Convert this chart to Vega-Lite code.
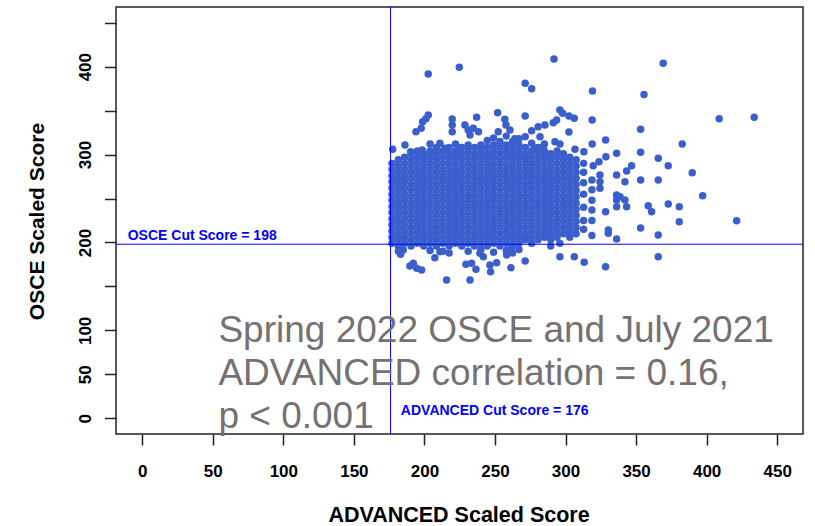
{
"$schema": "https://vega.github.io/schema/vega-lite/v6.json",
"width": 687, "height": 427,
"autosize": "none",
"padding": {"left": 116, "top": 7, "right": 12, "bottom": 92},
"background": "white",
"config": {"view": {"stroke": "#222", "strokeWidth": 1.5}, "font": "Liberation Sans"},
"data": {"values": [
{"adv":177,"osce":199},{"adv":177,"osce":206},{"adv":177,"osce":213},{"adv":177,"osce":220},{"adv":177,"osce":227},{"adv":177,"osce":234},{"adv":177,"osce":241},{"adv":177,"osce":248},{"adv":177,"osce":255},{"adv":177,"osce":262},{"adv":177,"osce":269},{"adv":177,"osce":276},{"adv":177,"osce":283},{"adv":177,"osce":290},
{"adv":181.5,"osce":196},{"adv":181.5,"osce":203},{"adv":181.5,"osce":210},{"adv":181.5,"osce":217},{"adv":181.5,"osce":224},{"adv":181.5,"osce":231},{"adv":181.5,"osce":238},{"adv":181.5,"osce":245},{"adv":181.5,"osce":252},{"adv":181.5,"osce":259},{"adv":181.5,"osce":266},{"adv":181.5,"osce":273},{"adv":181.5,"osce":280},{"adv":181.5,"osce":287},{"adv":181.5,"osce":294},
{"adv":186,"osce":199},{"adv":186,"osce":206},{"adv":186,"osce":213},{"adv":186,"osce":220},{"adv":186,"osce":227},{"adv":186,"osce":234},{"adv":186,"osce":241},{"adv":186,"osce":248},{"adv":186,"osce":255},{"adv":186,"osce":262},{"adv":186,"osce":269},{"adv":186,"osce":276},{"adv":186,"osce":283},{"adv":186,"osce":290},{"adv":186,"osce":297},
{"adv":190.5,"osce":196},{"adv":190.5,"osce":203},{"adv":190.5,"osce":210},{"adv":190.5,"osce":217},{"adv":190.5,"osce":224},{"adv":190.5,"osce":231},{"adv":190.5,"osce":238},{"adv":190.5,"osce":245},{"adv":190.5,"osce":252},{"adv":190.5,"osce":259},{"adv":190.5,"osce":266},{"adv":190.5,"osce":273},{"adv":190.5,"osce":280},{"adv":190.5,"osce":287},{"adv":190.5,"osce":294},{"adv":190.5,"osce":301},
{"adv":195,"osce":199},{"adv":195,"osce":206},{"adv":195,"osce":213},{"adv":195,"osce":220},{"adv":195,"osce":227},{"adv":195,"osce":234},{"adv":195,"osce":241},{"adv":195,"osce":248},{"adv":195,"osce":255},{"adv":195,"osce":262},{"adv":195,"osce":269},{"adv":195,"osce":276},{"adv":195,"osce":283},{"adv":195,"osce":290},{"adv":195,"osce":297},{"adv":195,"osce":304},
{"adv":199.5,"osce":196},{"adv":199.5,"osce":203},{"adv":199.5,"osce":210},{"adv":199.5,"osce":217},{"adv":199.5,"osce":224},{"adv":199.5,"osce":231},{"adv":199.5,"osce":238},{"adv":199.5,"osce":245},{"adv":199.5,"osce":252},{"adv":199.5,"osce":259},{"adv":199.5,"osce":266},{"adv":199.5,"osce":273},{"adv":199.5,"osce":280},{"adv":199.5,"osce":287},{"adv":199.5,"osce":294},{"adv":199.5,"osce":301},
{"adv":204,"osce":199},{"adv":204,"osce":206},{"adv":204,"osce":213},{"adv":204,"osce":220},{"adv":204,"osce":227},{"adv":204,"osce":234},{"adv":204,"osce":241},{"adv":204,"osce":248},{"adv":204,"osce":255},{"adv":204,"osce":262},{"adv":204,"osce":269},{"adv":204,"osce":276},{"adv":204,"osce":283},{"adv":204,"osce":290},{"adv":204,"osce":297},{"adv":204,"osce":304},
{"adv":208.5,"osce":196},{"adv":208.5,"osce":203},{"adv":208.5,"osce":210},{"adv":208.5,"osce":217},{"adv":208.5,"osce":224},{"adv":208.5,"osce":231},{"adv":208.5,"osce":238},{"adv":208.5,"osce":245},{"adv":208.5,"osce":252},{"adv":208.5,"osce":259},{"adv":208.5,"osce":266},{"adv":208.5,"osce":273},{"adv":208.5,"osce":280},{"adv":208.5,"osce":287},{"adv":208.5,"osce":294},{"adv":208.5,"osce":301},{"adv":208.5,"osce":308},
{"adv":213,"osce":199},{"adv":213,"osce":206},{"adv":213,"osce":213},{"adv":213,"osce":220},{"adv":213,"osce":227},{"adv":213,"osce":234},{"adv":213,"osce":241},{"adv":213,"osce":248},{"adv":213,"osce":255},{"adv":213,"osce":262},{"adv":213,"osce":269},{"adv":213,"osce":276},{"adv":213,"osce":283},{"adv":213,"osce":290},{"adv":213,"osce":297},{"adv":213,"osce":304},
{"adv":217.5,"osce":196},{"adv":217.5,"osce":203},{"adv":217.5,"osce":210},{"adv":217.5,"osce":217},{"adv":217.5,"osce":224},{"adv":217.5,"osce":231},{"adv":217.5,"osce":238},{"adv":217.5,"osce":245},{"adv":217.5,"osce":252},{"adv":217.5,"osce":259},{"adv":217.5,"osce":266},{"adv":217.5,"osce":273},{"adv":217.5,"osce":280},{"adv":217.5,"osce":287},{"adv":217.5,"osce":294},{"adv":217.5,"osce":301},{"adv":217.5,"osce":308},
{"adv":222,"osce":199},{"adv":222,"osce":206},{"adv":222,"osce":213},{"adv":222,"osce":220},{"adv":222,"osce":227},{"adv":222,"osce":234},{"adv":222,"osce":241},{"adv":222,"osce":248},{"adv":222,"osce":255},{"adv":222,"osce":262},{"adv":222,"osce":269},{"adv":222,"osce":276},{"adv":222,"osce":283},{"adv":222,"osce":290},{"adv":222,"osce":297},{"adv":222,"osce":304},
{"adv":226.5,"osce":196},{"adv":226.5,"osce":203},{"adv":226.5,"osce":210},{"adv":226.5,"osce":217},{"adv":226.5,"osce":224},{"adv":226.5,"osce":231},{"adv":226.5,"osce":238},{"adv":226.5,"osce":245},{"adv":226.5,"osce":252},{"adv":226.5,"osce":259},{"adv":226.5,"osce":266},{"adv":226.5,"osce":273},{"adv":226.5,"osce":280},{"adv":226.5,"osce":287},{"adv":226.5,"osce":294},{"adv":226.5,"osce":301},{"adv":226.5,"osce":308},
{"adv":231,"osce":199},{"adv":231,"osce":206},{"adv":231,"osce":213},{"adv":231,"osce":220},{"adv":231,"osce":227},{"adv":231,"osce":234},{"adv":231,"osce":241},{"adv":231,"osce":248},{"adv":231,"osce":255},{"adv":231,"osce":262},{"adv":231,"osce":269},{"adv":231,"osce":276},{"adv":231,"osce":283},{"adv":231,"osce":290},{"adv":231,"osce":297},{"adv":231,"osce":304},{"adv":231,"osce":311},
{"adv":235.5,"osce":196},{"adv":235.5,"osce":203},{"adv":235.5,"osce":210},{"adv":235.5,"osce":217},{"adv":235.5,"osce":224},{"adv":235.5,"osce":231},{"adv":235.5,"osce":238},{"adv":235.5,"osce":245},{"adv":235.5,"osce":252},{"adv":235.5,"osce":259},{"adv":235.5,"osce":266},{"adv":235.5,"osce":273},{"adv":235.5,"osce":280},{"adv":235.5,"osce":287},{"adv":235.5,"osce":294},{"adv":235.5,"osce":301},{"adv":235.5,"osce":308},
{"adv":240,"osce":199},{"adv":240,"osce":206},{"adv":240,"osce":213},{"adv":240,"osce":220},{"adv":240,"osce":227},{"adv":240,"osce":234},{"adv":240,"osce":241},{"adv":240,"osce":248},{"adv":240,"osce":255},{"adv":240,"osce":262},{"adv":240,"osce":269},{"adv":240,"osce":276},{"adv":240,"osce":283},{"adv":240,"osce":290},{"adv":240,"osce":297},{"adv":240,"osce":304},{"adv":240,"osce":311},
{"adv":244.5,"osce":196},{"adv":244.5,"osce":203},{"adv":244.5,"osce":210},{"adv":244.5,"osce":217},{"adv":244.5,"osce":224},{"adv":244.5,"osce":231},{"adv":244.5,"osce":238},{"adv":244.5,"osce":245},{"adv":244.5,"osce":252},{"adv":244.5,"osce":259},{"adv":244.5,"osce":266},{"adv":244.5,"osce":273},{"adv":244.5,"osce":280},{"adv":244.5,"osce":287},{"adv":244.5,"osce":294},{"adv":244.5,"osce":301},{"adv":244.5,"osce":308},
{"adv":249,"osce":199},{"adv":249,"osce":206},{"adv":249,"osce":213},{"adv":249,"osce":220},{"adv":249,"osce":227},{"adv":249,"osce":234},{"adv":249,"osce":241},{"adv":249,"osce":248},{"adv":249,"osce":255},{"adv":249,"osce":262},{"adv":249,"osce":269},{"adv":249,"osce":276},{"adv":249,"osce":283},{"adv":249,"osce":290},{"adv":249,"osce":297},{"adv":249,"osce":304},{"adv":249,"osce":311},
{"adv":253.5,"osce":196},{"adv":253.5,"osce":203},{"adv":253.5,"osce":210},{"adv":253.5,"osce":217},{"adv":253.5,"osce":224},{"adv":253.5,"osce":231},{"adv":253.5,"osce":238},{"adv":253.5,"osce":245},{"adv":253.5,"osce":252},{"adv":253.5,"osce":259},{"adv":253.5,"osce":266},{"adv":253.5,"osce":273},{"adv":253.5,"osce":280},{"adv":253.5,"osce":287},{"adv":253.5,"osce":294},{"adv":253.5,"osce":301},{"adv":253.5,"osce":308},{"adv":253.5,"osce":315},
{"adv":258,"osce":199},{"adv":258,"osce":206},{"adv":258,"osce":213},{"adv":258,"osce":220},{"adv":258,"osce":227},{"adv":258,"osce":234},{"adv":258,"osce":241},{"adv":258,"osce":248},{"adv":258,"osce":255},{"adv":258,"osce":262},{"adv":258,"osce":269},{"adv":258,"osce":276},{"adv":258,"osce":283},{"adv":258,"osce":290},{"adv":258,"osce":297},{"adv":258,"osce":304},{"adv":258,"osce":311},
{"adv":262.5,"osce":196},{"adv":262.5,"osce":203},{"adv":262.5,"osce":210},{"adv":262.5,"osce":217},{"adv":262.5,"osce":224},{"adv":262.5,"osce":231},{"adv":262.5,"osce":238},{"adv":262.5,"osce":245},{"adv":262.5,"osce":252},{"adv":262.5,"osce":259},{"adv":262.5,"osce":266},{"adv":262.5,"osce":273},{"adv":262.5,"osce":280},{"adv":262.5,"osce":287},{"adv":262.5,"osce":294},{"adv":262.5,"osce":301},{"adv":262.5,"osce":308},{"adv":262.5,"osce":315},
{"adv":267,"osce":199},{"adv":267,"osce":206},{"adv":267,"osce":213},{"adv":267,"osce":220},{"adv":267,"osce":227},{"adv":267,"osce":234},{"adv":267,"osce":241},{"adv":267,"osce":248},{"adv":267,"osce":255},{"adv":267,"osce":262},{"adv":267,"osce":269},{"adv":267,"osce":276},{"adv":267,"osce":283},{"adv":267,"osce":290},{"adv":267,"osce":297},{"adv":267,"osce":304},{"adv":267,"osce":311},
{"adv":271.5,"osce":203},{"adv":271.5,"osce":210},{"adv":271.5,"osce":217},{"adv":271.5,"osce":224},{"adv":271.5,"osce":231},{"adv":271.5,"osce":238},{"adv":271.5,"osce":245},{"adv":271.5,"osce":252},{"adv":271.5,"osce":259},{"adv":271.5,"osce":266},{"adv":271.5,"osce":273},{"adv":271.5,"osce":280},{"adv":271.5,"osce":287},{"adv":271.5,"osce":294},{"adv":271.5,"osce":301},{"adv":271.5,"osce":308},
{"adv":276,"osce":199},{"adv":276,"osce":206},{"adv":276,"osce":213},{"adv":276,"osce":220},{"adv":276,"osce":227},{"adv":276,"osce":234},{"adv":276,"osce":241},{"adv":276,"osce":248},{"adv":276,"osce":255},{"adv":276,"osce":262},{"adv":276,"osce":269},{"adv":276,"osce":276},{"adv":276,"osce":283},{"adv":276,"osce":290},{"adv":276,"osce":297},{"adv":276,"osce":304},
{"adv":280.5,"osce":203},{"adv":280.5,"osce":210},{"adv":280.5,"osce":217},{"adv":280.5,"osce":224},{"adv":280.5,"osce":231},{"adv":280.5,"osce":238},{"adv":280.5,"osce":245},{"adv":280.5,"osce":252},{"adv":280.5,"osce":259},{"adv":280.5,"osce":266},{"adv":280.5,"osce":273},{"adv":280.5,"osce":280},{"adv":280.5,"osce":287},{"adv":280.5,"osce":294},{"adv":280.5,"osce":301},{"adv":280.5,"osce":308},
{"adv":285,"osce":206},{"adv":285,"osce":213},{"adv":285,"osce":220},{"adv":285,"osce":227},{"adv":285,"osce":234},{"adv":285,"osce":241},{"adv":285,"osce":248},{"adv":285,"osce":255},{"adv":285,"osce":262},{"adv":285,"osce":269},{"adv":285,"osce":276},{"adv":285,"osce":283},{"adv":285,"osce":290},{"adv":285,"osce":297},{"adv":285,"osce":304},
{"adv":289.5,"osce":203},{"adv":289.5,"osce":210},{"adv":289.5,"osce":217},{"adv":289.5,"osce":224},{"adv":289.5,"osce":231},{"adv":289.5,"osce":238},{"adv":289.5,"osce":245},{"adv":289.5,"osce":252},{"adv":289.5,"osce":259},{"adv":289.5,"osce":266},{"adv":289.5,"osce":273},{"adv":289.5,"osce":280},{"adv":289.5,"osce":287},{"adv":289.5,"osce":294},{"adv":289.5,"osce":301},
{"adv":294,"osce":206},{"adv":294,"osce":213},{"adv":294,"osce":220},{"adv":294,"osce":227},{"adv":294,"osce":234},{"adv":294,"osce":241},{"adv":294,"osce":248},{"adv":294,"osce":255},{"adv":294,"osce":262},{"adv":294,"osce":269},{"adv":294,"osce":276},{"adv":294,"osce":283},{"adv":294,"osce":290},{"adv":294,"osce":297},{"adv":294,"osce":304},
{"adv":298.5,"osce":210},{"adv":298.5,"osce":217},{"adv":298.5,"osce":224},{"adv":298.5,"osce":231},{"adv":298.5,"osce":238},{"adv":298.5,"osce":245},{"adv":298.5,"osce":252},{"adv":298.5,"osce":259},{"adv":298.5,"osce":266},{"adv":298.5,"osce":273},{"adv":298.5,"osce":280},{"adv":298.5,"osce":287},{"adv":298.5,"osce":294},{"adv":298.5,"osce":301},
{"adv":303,"osce":206},{"adv":303,"osce":213},{"adv":303,"osce":220},{"adv":303,"osce":227},{"adv":303,"osce":234},{"adv":303,"osce":241},{"adv":303,"osce":248},{"adv":303,"osce":255},{"adv":303,"osce":262},{"adv":303,"osce":269},{"adv":303,"osce":276},{"adv":303,"osce":283},{"adv":303,"osce":290},{"adv":303,"osce":297},
{"adv":307.5,"osce":210},{"adv":307.5,"osce":217},{"adv":307.5,"osce":224},{"adv":307.5,"osce":231},{"adv":307.5,"osce":238},{"adv":307.5,"osce":245},{"adv":307.5,"osce":252},{"adv":307.5,"osce":259},{"adv":307.5,"osce":266},{"adv":307.5,"osce":273},{"adv":307.5,"osce":280},{"adv":307.5,"osce":287},{"adv":307.5,"osce":294},
{"adv":312.8,"osce":290},{"adv":312.8,"osce":280},{"adv":312.8,"osce":268},{"adv":312.8,"osce":255},{"adv":312.8,"osce":240},{"adv":312.8,"osce":225},{"adv":312.8,"osce":215},
{"adv":318.7,"osce":271},{"adv":318.7,"osce":260},{"adv":318.7,"osce":248},{"adv":318.7,"osce":237},{"adv":318.7,"osce":225},{"adv":318.7,"osce":208},
{"adv":202.7,"osce":391.7},{"adv":224.7,"osce":399.3},{"adv":291.8,"osce":408.8},{"adv":369.2,"osce":403.9},{"adv":271.4,"osce":381.1},{"adv":276,"osce":375},{"adv":319.1,"osce":372.4},{"adv":355.6,"osce":368.4},
{"adv":296,"osce":350.7},{"adv":297.9,"osce":347},{"adv":408.9,"osce":340.8},{"adv":433.7,"osce":342.4},{"adv":202.7,"osce":345},{"adv":201.1,"osce":340.8},{"adv":198.7,"osce":337.4},{"adv":197.7,"osce":329.9},{"adv":194,"osce":326},
{"adv":219.7,"osce":340.5},{"adv":219.7,"osce":333.7},{"adv":219.7,"osce":326},{"adv":237,"osce":342.4},{"adv":251.9,"osce":347.7},{"adv":257,"osce":340.2},{"adv":257.8,"osce":333.7},{"adv":260.6,"osce":328},
{"adv":271.4,"osce":343.9},{"adv":302.4,"osce":343.9},{"adv":306.2,"osce":341.3},{"adv":318.9,"osce":339.4},{"adv":353.2,"osce":328.8},{"adv":291.3,"osce":336.3},{"adv":293.7,"osce":339.4},{"adv":302.4,"osce":325.7},
{"adv":276,"osce":327.2},{"adv":271.4,"osce":320.4},{"adv":280.6,"osce":331.7},{"adv":285.4,"osce":333.7},{"adv":252.3,"osce":326},{"adv":228.7,"osce":333.7},{"adv":231,"osce":328},{"adv":234.6,"osce":330},{"adv":238.3,"osce":326},{"adv":232.3,"osce":322.3},
{"adv":382.7,"osce":312.1},{"adv":328.4,"osce":316.6},{"adv":318.9,"osce":312.1},{"adv":353.2,"osce":302.6},{"adv":336.2,"osce":301.5},{"adv":365.7,"osce":295.8},{"adv":372.8,"osce":287.4},{"adv":389.8,"osce":279.4},
{"adv":346.8,"osce":287.4},{"adv":343.3,"osce":281.3},{"adv":336.2,"osce":276.8},{"adv":342.1,"osce":269.2},{"adv":353.2,"osce":271.1},{"adv":365.7,"osce":271.1},{"adv":397.2,"osce":253.2},
{"adv":358.6,"osce":241.9},{"adv":361,"osce":235},{"adv":372.8,"osce":243.8},{"adv":380.6,"osce":240.7},{"adv":380.6,"osce":223.7},{"adv":421.3,"osce":224.8},{"adv":353.2,"osce":216.5},{"adv":365.7,"osce":208.5},{"adv":365.7,"osce":183.8},
{"adv":328.4,"osce":172.5},{"adv":336.2,"osce":204},{"adv":328.4,"osce":235},{"adv":330.3,"osce":214.2},{"adv":330.3,"osce":210.5},{"adv":328.6,"osce":297.6},{"adv":319.6,"osce":287.4},{"adv":323.7,"osce":291.9},
{"adv":324.4,"osce":276.8},{"adv":324.4,"osce":269.2},{"adv":324.4,"osce":261.7},{"adv":336.2,"osce":254},{"adv":336.2,"osce":248.4},{"adv":336.2,"osce":240.7},{"adv":338.6,"osce":252.1},{"adv":342.1,"osce":248.4},{"adv":343.3,"osce":240.7},
{"adv":296,"osce":183.8},{"adv":306.2,"osce":183.8},{"adv":313.2,"osce":177.5},{"adv":271.4,"osce":179},{"adv":302.2,"osce":210.5},
{"adv":177.5,"osce":306},{"adv":186.2,"osce":311},{"adv":190.2,"osce":303.3},{"adv":198.4,"osce":305.2},{"adv":211,"osce":312.9},{"adv":214.5,"osce":307.2},{"adv":225.2,"osce":307.2},{"adv":207.4,"osce":303.3},
{"adv":292.5,"osce":314.7},{"adv":296,"osce":312.1},{"adv":306.7,"osce":306},{"adv":313,"osce":303.3},{"adv":284.2,"osce":309},{"adv":278.3,"osce":307.2},{"adv":281.9,"osce":320.4},{"adv":264,"osce":318},
{"adv":185,"osce":191.5},{"adv":183.1,"osce":186.6},{"adv":192.1,"osce":176.3},{"adv":189.7,"osce":173.3},{"adv":194.5,"osce":170.6},{"adv":198,"osce":168.7},{"adv":215.7,"osce":157.4},{"adv":232.3,"osce":157.4},
{"adv":207.4,"osce":182.7},{"adv":229.4,"osce":175.2},{"adv":233.4,"osce":176.3},{"adv":236.5,"osce":169.5},{"adv":246.4,"osce":174.4},{"adv":246.9,"osce":166.8},{"adv":251.2,"osce":177},{"adv":261.3,"osce":171.3},
{"adv":239.3,"osce":187.7},{"adv":241.7,"osce":183.8},{"adv":258.3,"osce":185.8},{"adv":211,"osce":189.5},{"adv":296,"osce":199},{"adv":261.8,"osce":193.4},
{"adv":181.5,"osce":190},{"adv":204,"osce":191},{"adv":213,"osce":190},{"adv":217.5,"osce":188},{"adv":231,"osce":190},{"adv":240,"osce":192},{"adv":249,"osce":189},{"adv":258,"osce":191},{"adv":262.5,"osce":188},{"adv":267,"osce":192},{"adv":289.5,"osce":196},
{"adv":222,"osce":312},{"adv":244.5,"osce":316},{"adv":249,"osce":319},{"adv":258,"osce":321},{"adv":267,"osce":318},{"adv":285,"osce":312},{"adv":276,"osce":313},{"adv":204,"osce":312}
]},
"layer": [
{"mark": {"type": "circle", "size": 56, "color": "#3a5fcd", "opacity": 1},
 "encoding": {
  "x": {"field": "adv", "type": "quantitative",
   "scale": {"domain": [-18.6, 468.3], "nice": false, "zero": false},
   "axis": {"title": "ADVANCED Scaled Score", "values": [0,50,100,150,200,250,300,350,400,450],
    "domain": false, "grid": false, "tickSize": 11, "tickWidth": 1.5, "tickColor": "#222",
    "labelFont": "Liberation Sans", "labelFontWeight": "bold", "labelFontSize": 17, "labelColor": "#000",
    "labelBaseline": "alphabetic", "labelPadding": 31, "labelFlush": false, "labelOverlap": false,
    "titleFont": "Liberation Sans", "titleFontSize": 21.5, "titleFontWeight": "bold", "titleColor": "#000",
    "titleBaseline": "alphabetic", "titleAlign": "center", "titleX": 342.5, "titleY": 87.5}},
  "y": {"field": "osce", "type": "quantitative",
   "scale": {"domain": [-17.9, 467.9], "nice": false, "zero": false},
   "axis": {"title": "OSCE Scaled Score", "values": [0,50,100,150,200,250,300,350,400,450],
    "labelExpr": "(datum.value==150||datum.value==250||datum.value==350||datum.value==450) ? '' : datum.label",
    "domain": false, "grid": false, "tickSize": 11.5, "tickWidth": 1.5, "tickColor": "#222",
    "labelFont": "Liberation Sans", "labelFontWeight": "bold", "labelFontSize": 17, "labelColor": "#000",
    "labelAngle": 270, "labelAlign": "center", "labelBaseline": "alphabetic", "labelPadding": 14, "labelOverlap": false, "labelFlush": false,
    "titleFont": "Liberation Sans", "titleFontSize": 21, "titleFontWeight": "bold", "titleColor": "#000",
    "titleAngle": 270, "titleBaseline": "alphabetic", "titleAlign": "center", "titleX": -73, "titleY": 214}}
 }},
{"data": {"values": [{}]}, "mark": {"type": "rule", "color": "#0000ff", "strokeWidth": 1}, "encoding": {"x": {"datum": 176, "type": "quantitative"}}},
{"data": {"values": [{}]}, "mark": {"type": "rule", "color": "#0000ff", "strokeWidth": 1}, "encoding": {"y": {"datum": 198, "type": "quantitative"}}},
{"data": {"values": [{}]}, "mark": {"type": "text", "text": "OSCE Cut Score = 198", "align": "left", "baseline": "alphabetic", "font": "Liberation Sans", "fontWeight": "bold", "fontSize": 14, "color": "#0000ff"},
 "encoding": {"x": {"datum": -10.3, "type": "quantitative"}, "y": {"datum": 202.8, "type": "quantitative"}}},
{"data": {"values": [{}]}, "mark": {"type": "text", "text": "ADVANCED Cut Score = 176", "align": "left", "baseline": "alphabetic", "font": "Liberation Sans", "fontWeight": "bold", "fontSize": 14, "color": "#0000ff"},
 "encoding": {"x": {"datum": 183.3, "type": "quantitative"}, "y": {"datum": 3.2, "type": "quantitative"}}},
{"data": {"values": [{}]}, "mark": {"type": "text", "text": "Spring 2022 OSCE and July 2021\nADVANCED correlation = 0.16,\np < 0.001", "lineBreak": "\n", "lineHeight": 43, "align": "left", "baseline": "alphabetic", "font": "Liberation Sans", "fontSize": 37, "color": "#757171"},
 "encoding": {"x": {"datum": 54, "type": "quantitative"}, "y": {"datum": 87.2, "type": "quantitative"}}}
]
}
